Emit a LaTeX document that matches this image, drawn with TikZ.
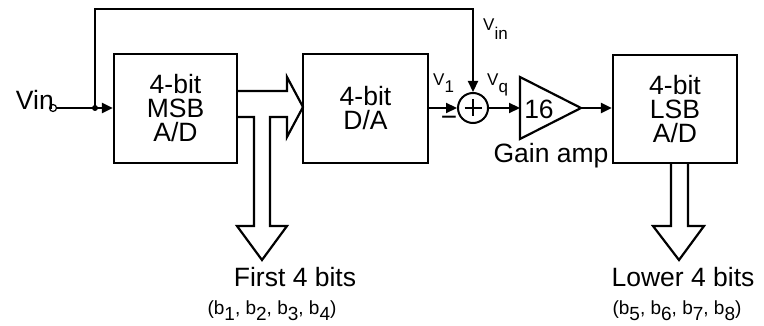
\documentclass[tikz,border=0pt]{standalone}
\usepackage{fontspec}
\setmainfont{Liberation Sans}
\usetikzlibrary{arrows.meta}
\begin{document}
\begin{tikzpicture}[x=1pt,y=-1pt,
  lw/.style={line width=2.2pt, line join=miter},
  blockbox/.style={draw, line width=2.2pt, inner sep=0pt, align=center, font=\fontsize{26.5}{24}\selectfont},
  big/.style={font=\fontsize{26.5}{24}\selectfont, inner sep=0pt},
  small/.style={font=\fontsize{17}{17}\selectfont, inner sep=0pt},
  bits/.style={font=\fontsize{19}{19}\selectfont, inner sep=0pt},
  arr/.style={line width=2.2pt, -{Triangle[length=11pt,width=10pt]}},
]
\useasboundingbox (0,0) rectangle (764,326);

% blocks
\node[blockbox, minimum width=123pt, minimum height=109pt] (msb) at (175.5,108.5) {4-bit\\MSB\\A/D};
\node[blockbox, minimum width=125pt, minimum height=109pt] (da) at (365.5,108.5) {4-bit\\D/A};
\node[blockbox, minimum width=124pt, minimum height=108pt] (lsb) at (675,109) {4-bit\\LSB\\A/D};

% input
\node[circle, draw, line width=1.2pt, minimum size=7pt, inner sep=0pt] (vin) at (53,108) {};
\node[big, anchor=base east] (vinlabel) at (54,110) {Vin};
\node[circle, fill, minimum size=6pt, inner sep=0pt] (j) at (95,108) {};
\draw[lw] (vin.east) -- (j.center);
\draw[arr] (j.center) -- (msb.west |- j);

% summing node
\node[circle, draw, line width=2pt, minimum size=30pt, inner sep=0pt,
  path picture={\draw[line width=2pt] (path picture bounding box.center) ++(-8.5,0) -- ++(17,0)
     (path picture bounding box.center) ++(0,-8.5) -- ++(0,17);}] (sum) at (473,108) {};

% feedforward of Vin
\coordinate (top) at (95,9);
\draw[arr] (j.center) -- (top) -| (sum.north);

% D/A to sum
\draw[arr] (da.east |- sum) -- (sum.west);

% amplifier
\coordinate (ampin) at (520,108);
\coordinate (ampout) at (581,108);
\draw[lw] (520,77) -- (ampout) -- (520,139) -- cycle;
\node[big] (gainval) at (539,109) {16};
\draw[arr] (sum.east) -- (ampin);
\draw[arr] (ampout) -- (lsb.west |- ampout);

% labels
\node[small, anchor=base west] (vinsub) at (483,31) {V\raisebox{-9pt}{in}};
\node[small, anchor=base west] (v1) at (433,86) {V\raisebox{-7pt}{1}};
\node[small, anchor=base west] (vq) at (487,86) {V\raisebox{-7pt}{q}};
\node[font=\fontsize{28}{28}\selectfont, inner sep=0pt] (minus) at (449,121) {−};
\node[big, anchor=base] (gain) at (551,163) {Gain amp};

% hollow bus arrows (MSB)
\draw[lw] (237,91) -- (287,91) -- (287,77) -- (303,107) -- (287,137) -- (287,117)
  -- (270,117) -- (270,226) -- (287,226) -- (262,260) -- (237,226) -- (254,226)
  -- (254,117) -- (237,117);
% hollow bus arrow (LSB)
\draw[lw] (671,163) -- (671,226) -- (653,226) -- (679,260) -- (704,226) -- (688,226) -- (688,163);

% output labels
\node[big, anchor=base] (first) at (295,287) {First 4 bits};
\node[bits, anchor=base] (firstbits) at (272,314) {(b\raisebox{-6pt}{1}, b\raisebox{-6pt}{2}, b\raisebox{-6pt}{3}, b\raisebox{-6pt}{4})};
\node[big, anchor=base] (lower) at (683,287) {Lower 4 bits};
\node[bits, anchor=base] (lowerbits) at (677,314) {(b\raisebox{-6pt}{5}, b\raisebox{-6pt}{6}, b\raisebox{-6pt}{7}, b\raisebox{-6pt}{8})};
\end{tikzpicture}
\end{document}
